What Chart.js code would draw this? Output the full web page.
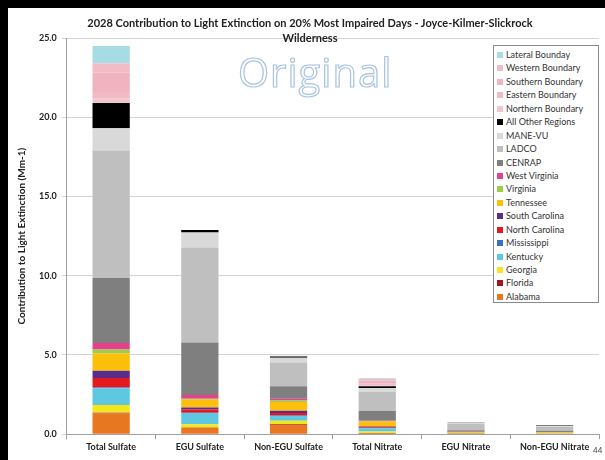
<!DOCTYPE html>
<html><head><meta charset="utf-8">
<script src="https://cdn.jsdelivr.net/npm/chart.js@4.4.1/dist/chart.umd.min.js"></script>
<style>
html,body{margin:0;padding:0;background:#fff;}
#wrap{position:relative;width:605px;height:460px;overflow:hidden;font-family:Lato,"Open Sans",sans-serif;}
#c{position:absolute;left:0;top:0;}
.bt{position:absolute;left:0;top:0;width:605px;height:8px;background:#000;}
.bl{position:absolute;left:0;top:0;width:8px;height:460px;background:#000;}
#title{position:absolute;left:30px;width:560px;top:15px;text-align:center;font-weight:bold;font-size:11px;line-height:15px;color:#222;}
#wm{position:absolute;left:238px;top:44px;font-size:40px;color:#fff;-webkit-text-stroke:1.2px #a8c4e2;letter-spacing:1px;font-family:"Open Sans",sans-serif;}
#legend{position:absolute;left:493px;top:45px;width:106px;height:258px;border:1px solid #8a8a8a;background:#fff;font-size:9px;color:#333;padding-top:2px;box-sizing:border-box;}
#legend div{height:13.45px;line-height:13.45px;white-space:nowrap;padding-left:3px;}
#legend span{display:inline-block;width:6px;height:6px;margin-right:3px;vertical-align:0px;}
#pg{position:absolute;left:593px;top:445px;font-size:8px;color:#444;}
</style></head>
<body><div id="wrap">
<canvas id="c" width="605" height="460"></canvas>
<div class="bt"></div><div class="bl"></div>
<div id="title">2028 Contribution to Light Extinction on 20% Most Impaired Days - Joyce-Kilmer-Slickrock<br>Wilderness</div>
<div id="wm">Original</div>
<div id="legend"></div>
<div id="pg">44</div>
</div>
<script>
const categories = ["Total Sulfate","EGU Sulfate","Non-EGU Sulfate","Total Nitrate","EGU Nitrate","Non-EGU Nitrate"];
const seriesNames = ["Alabama","Florida","Georgia","Kentucky","Mississippi","North Carolina","South Carolina","Tennessee","Virginia","West Virginia","CENRAP","LADCO","MANE-VU","All Other Regions","Northern Boundary","Eastern Boundary","Southern Boundary","Western Boundary","Lateral Bounday"];
const seriesColors = ["#e87722","#a0161c","#f3e61a","#5ec8e0","#3a6fc4","#e3191f","#5a2d8c","#fbbf0c","#9ccc4c","#e8408a","#7f7f7f","#bfbfbf","#d9d9d9","#000000","#f2c4cc","#f1bac4","#f0b4c0","#f2bcc6","#a8dce4"];
const alabama      = [1.30, 0.40, 0.60, 0.05, 0.02, 0.03];
const florida      = [0.05, 0.03, 0.05, 0.02, 0.00, 0.00];
const georgia      = [0.50, 0.20, 0.20, 0.10, 0.01, 0.01];
const kentucky     = [1.05, 0.70, 0.30, 0.20, 0.03, 0.02];
const mississippi  = [0.05, 0.03, 0.03, 0.02, 0.00, 0.00];
const northCarolina= [0.60, 0.20, 0.15, 0.05, 0.01, 0.01];
const southCarolina= [0.45, 0.12, 0.15, 0.05, 0.01, 0.01];
const tennessee    = [1.10, 0.50, 0.55, 0.30, 0.05, 0.04];
const virginia     = [0.25, 0.05, 0.10, 0.05, 0.01, 0.01];
const westVirginia = [0.40, 0.25, 0.10, 0.02, 0.01, 0.01];
const cenrap       = [4.10, 3.30, 0.80, 0.60, 0.10, 0.08];
const ladco        = [8.05, 6.00, 1.50, 1.20, 0.40, 0.25];
const maneVu       = [1.40, 0.95, 0.30, 0.25, 0.06, 0.05];
const allOther     = [1.60, 0.15, 0.07, 0.12, 0.02, 0.03];
const northernBnd  = [0.30, 0.00, 0.01, 0.05, 0.00, 0.00];
const easternBnd   = [0.40, 0.00, 0.01, 0.10, 0.00, 0.00];
const southernBnd  = [1.20, 0.00, 0.01, 0.20, 0.00, 0.00];
const westernBnd   = [0.60, 0.00, 0.01, 0.10, 0.00, 0.00];
const lateralBnd   = [1.10, 0.00, 0.01, 0.05, 0.00, 0.00];
const yTicks = [0,5,10,15,20,25];

const seriesValues = [alabama,florida,georgia,kentucky,mississippi,northCarolina,southCarolina,tennessee,virginia,westVirginia,cenrap,ladco,maneVu,allOther,northernBnd,easternBnd,southernBnd,westernBnd,lateralBnd];

const datasets = seriesNames.map((n,i)=>({label:n,data:seriesValues[i],backgroundColor:seriesColors[i],borderWidth:0,barPercentage:0.42,categoryPercentage:1.0}));

const lg = document.getElementById('legend');
for(let i=seriesNames.length-1;i>=0;i--){
  const d=document.createElement('div');
  d.innerHTML='<span style="background:'+seriesColors[i]+'"></span>'+seriesNames[i];
  lg.appendChild(d);
}

new Chart(document.getElementById('c'),{
  type:'bar',
  data:{labels:categories,datasets:datasets},
  options:{
    responsive:false,animation:false,
    layout:{padding:{top:38,left:16,right:6,bottom:6}},
    plugins:{legend:{display:false},title:{display:false},tooltip:{enabled:false}},
    scales:{
      x:{stacked:true,
         grid:{display:true,drawOnChartArea:false,drawTicks:true,tickLength:5,color:'#a0a0a0',offset:true},
         border:{color:'#a0a0a0'},
         ticks:{color:'#222',font:{family:'Lato',size:9,weight:'bold'},padding:2,maxRotation:0}},
      y:{stacked:true,min:0,max:25,
         afterBuildTicks:(s)=>{s.ticks=yTicks.map(v=>({value:v}));},
         grid:{color:'#d4d4d4',drawTicks:true,tickLength:5},
         border:{color:'#a0a0a0'},
         ticks:{color:'#222',font:{family:'Lato',size:9,weight:'bold'},padding:5,callback:v=>Number(v).toFixed(1)},
         title:{display:true,text:'Contribution to Light Extinction (Mm-1)',color:'#222',font:{family:'Lato',size:10,weight:'bold'},padding:{top:0,bottom:6}}}
    }
  }
});
</script>
</body></html>
